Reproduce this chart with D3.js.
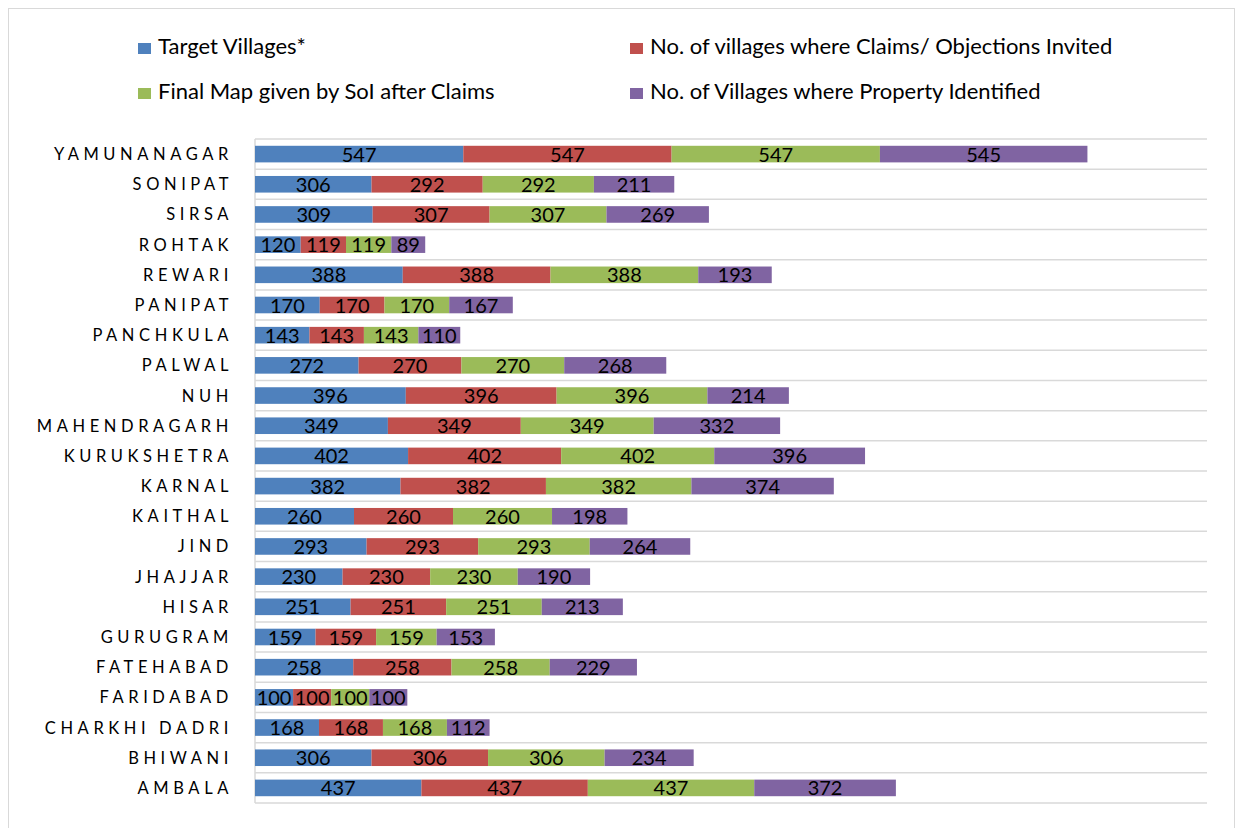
<!DOCTYPE html>
<html><head><meta charset="utf-8">
<script src="https://d3js.org/d3.v7.min.js"></script>
<style>body{margin:0;background:#fff;} svg{display:block;}</style>
</head><body>
<script>
const categories = ["YAMUNANAGAR","SONIPAT","SIRSA","ROHTAK","REWARI","PANIPAT","PANCHKULA","PALWAL","NUH","MAHENDRAGARH","KURUKSHETRA","KARNAL","KAITHAL","JIND","JHAJJAR","HISAR","GURUGRAM","FATEHABAD","FARIDABAD","CHARKHI DADRI","BHIWANI","AMBALA"];
const seriesNames = ["Target Villages*","No. of villages where Claims/ Objections Invited","Final Map given by SoI after Claims","No. of Villages where Property Identified"];
const targetVillages = [547,306,309,120,388,170,143,272,396,349,402,382,260,293,230,251,159,258,100,168,306,437];
const claimsInvited  = [547,292,307,119,388,170,143,270,396,349,402,382,260,293,230,251,159,258,100,168,306,437];
const finalMap       = [547,292,307,119,388,170,143,270,396,349,402,382,260,293,230,251,159,258,100,168,306,437];
const propertyIdent  = [545,211,269,89,193,167,110,268,214,332,396,374,198,264,190,213,153,229,100,112,234,372];
const colors = ["#4F81BD","#C0504D","#9BBB59","#8064A2"];

const W=1236,H=828;
const svg=d3.select("body").append("svg").attr("width",W).attr("height",H);
svg.append("rect").attr("x",8.5).attr("y",8.5).attr("width",1226).attr("height",840)
  .attr("fill","#fff").attr("stroke","#D9D9D9").attr("stroke-width",1);

const pLeft=255,pRight=1207,pTop=139,pBottom=803;
const x=d3.scaleLinear().domain([0,2500]).range([pLeft,pRight]);
const y=d3.scaleBand().domain(categories).range([pTop,pBottom]).paddingInner(0.45).paddingOuter(0.225);

const step=y.step();
const bounds=d3.range(categories.length+1).map(i=>pTop+i*step);
svg.append("g").selectAll("line").data(bounds).join("line")
  .attr("x1",pLeft).attr("x2",pRight).attr("y1",d=>d).attr("y2",d=>d)
  .attr("stroke","#D9D9D9").attr("stroke-width",1.5);
svg.append("line").attr("x1",pLeft).attr("x2",pLeft).attr("y1",pTop).attr("y2",pBottom)
  .attr("stroke","#D9D9D9").attr("stroke-width",1.5);

const seriesArr=[targetVillages,claimsInvited,finalMap,propertyIdent];
const rows=categories.map((c,i)=>{const o={cat:c};seriesNames.forEach((s,j)=>o[s]=seriesArr[j][i]);return o;});
const stacked=d3.stack().keys(seriesNames)(rows);

const g=svg.append("g");
stacked.forEach((layer,j)=>{
  const lg=g.append("g");
  lg.selectAll("rect").data(layer).join("rect")
    .attr("x",d=>x(d[0])).attr("width",d=>x(d[1])-x(d[0]))
    .attr("y",d=>y(d.data.cat)).attr("height",y.bandwidth())
    .attr("fill",colors[j]);
  lg.selectAll("text").data(layer).join("text")
    .attr("x",d=>(x(d[0])+x(d[1]))/2)
    .attr("y",d=>y(d.data.cat)+y.bandwidth()/2+7.5)
    .attr("text-anchor","middle")
    .attr("font-family","Lato, 'Open Sans', sans-serif")
    .attr("font-size",20).attr("fill","#000")
    .text(d=>d[1]-d[0]);
});

svg.append("g").selectAll("text").data(categories).join("text")
  .attr("x",233).attr("y",d=>y(d)+y.bandwidth()/2+6)
  .attr("text-anchor","end")
  .attr("font-family","Lato, 'Open Sans', sans-serif")
  .attr("font-size",16.5).attr("letter-spacing","4.6px").attr("fill","#000")
  .text(d=>d);

const legendPos=[[138,48],[630,48],[138,93],[630,93]];
[0,1,2,3].forEach((j,k)=>{
  const [lx,ly]=legendPos[k];
  svg.append("rect").attr("x",lx).attr("y",ly-5).attr("width",13).attr("height",11).attr("fill",colors[j]);
  svg.append("text").attr("x",lx+20).attr("y",ly+5.5)
    .attr("font-family","Lato, 'Open Sans', sans-serif").attr("font-size",22).attr("fill","#000")
    .text(seriesNames[j]);
});
</script>
</body></html>
